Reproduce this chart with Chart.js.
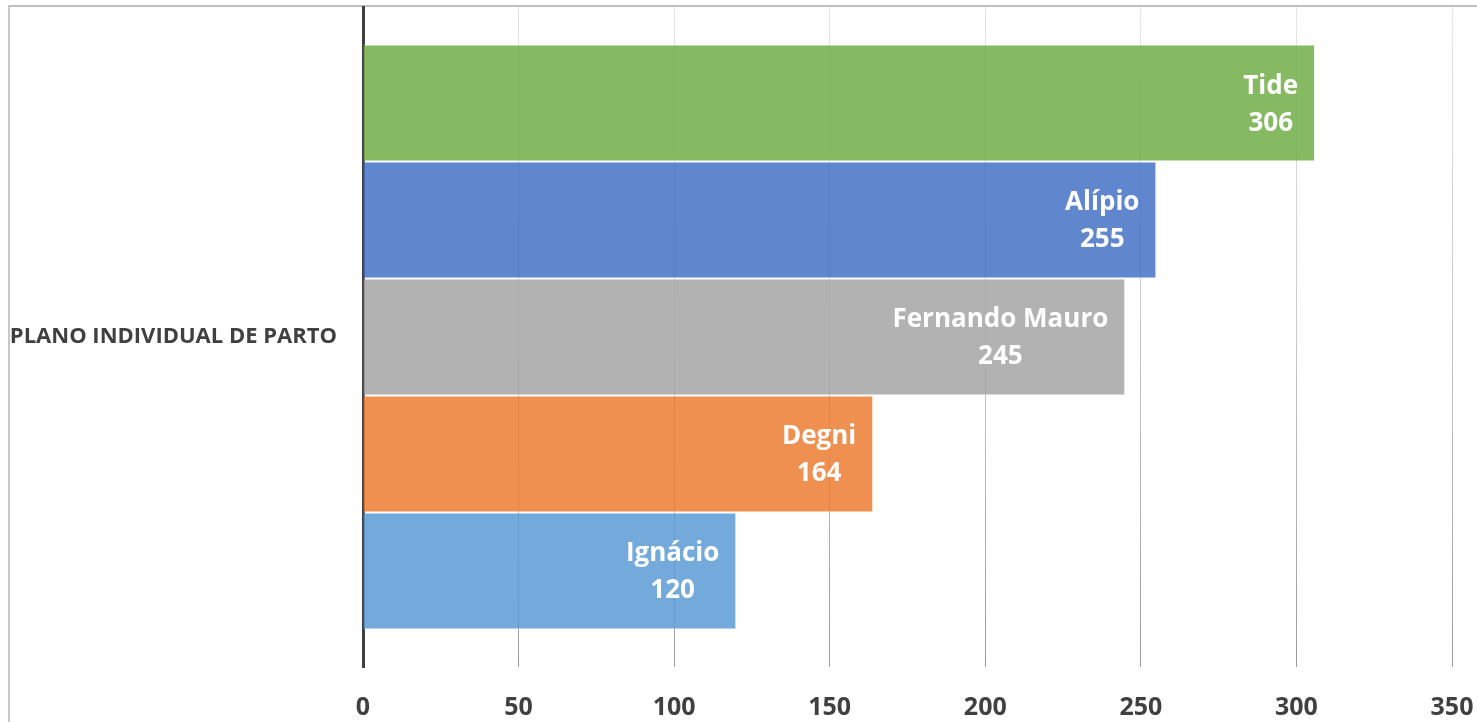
<!DOCTYPE html>
<html>
<head>
<meta charset="utf-8">
<script src="https://cdn.jsdelivr.net/npm/chart.js@4/dist/chart.umd.min.js"></script>
<style>
  html, body { margin: 0; padding: 0; background: #ffffff; overflow: hidden; }
  #frame { position: absolute; left: 8px; top: 5px; width: 3000px; height: 3000px;
           border-top: 2px solid #c0c0c0; border-left: 2px solid #c8c8c8; }
  #wrap { position: absolute; left: 0; top: 0; width: 1477px; height: 722px; }
</style>
</head>
<body>
<div id="frame"></div>
<div id="wrap"><canvas id="c" width="1477" height="722"></canvas></div>
<script>
const categories = ['PLANO INDIVIDUAL DE PARTO'];
const seriesNames = ['Tide', 'Alípio', 'Fernando Mauro', 'Degni', 'Ignácio'];
const seriesValues = [306, 255, 245, 164, 120];
const seriesColors = ['rgba(112,173,71,0.85)', 'rgba(68,114,196,0.85)', 'rgba(165,165,165,0.85)', 'rgba(237,125,49,0.85)', 'rgba(91,155,213,0.85)'];
const xTicks = [0, 50, 100, 150, 200, 250, 300, 350];

const FONT = "'Open Sans', 'Noto Sans', sans-serif";

const datasets = seriesNames.map((name, i) => ({
  label: name,
  data: [seriesValues[i]],
  backgroundColor: seriesColors[i],
  borderColor: 'rgba(255,255,255,0.45)',
  borderWidth: 1,
  barPercentage: 1.0,
  categoryPercentage: 0.886
}));

const barLabels = {
  id: 'barLabels',
  afterDatasetsDraw(chart) {
    const ctx = chart.ctx;
    ctx.save();
    ctx.font = 'bold 26px ' + FONT;
    ctx.fillStyle = '#ffffff';
    ctx.textAlign = 'center';
    ctx.textBaseline = 'middle';
    chart.data.datasets.forEach((ds, i) => {
      const el = chart.getDatasetMeta(i).data[0];
      if (!el) return;
      const lines = [ds.label, String(ds.data[0])];
      const w = Math.max(...lines.map(t => ctx.measureText(t).width));
      const cx = el.x - 17 - w / 2;
      ctx.fillText(lines[0], cx, el.y - 17);
      ctx.fillText(lines[1], cx, el.y + 20);
    });
    ctx.restore();
  }
};

new Chart(document.getElementById('c'), {
  type: 'bar',
  data: { labels: categories, datasets },
  options: {
    indexAxis: 'y',
    responsive: false,
    animation: false,
    layout: { padding: { top: 7, right: 25, bottom: 0, left: 0 } },
    plugins: { legend: { display: false }, tooltip: { enabled: false } },
    scales: {
      x: {
        min: xTicks[0],
        max: xTicks[xTicks.length - 1],
        afterBuildTicks(scale) { scale.ticks = xTicks.map(v => ({ value: v })); },
        afterFit(scale) {
          scale.height = 55;
          scale.paddingLeft = 0; scale.paddingRight = 0;
          scale.paddingTop = 0; scale.paddingBottom = 0;
        },
        border: { display: false },
        grid: {
          drawTicks: false,
          lineWidth: 1,
          color(ctx) {
            const ch = ctx.chart; const a = ch.chartArea;
            if (!a) return '#d9d9d9';
            const g = ch.ctx.createLinearGradient(0, a.top, 0, a.bottom);
            g.addColorStop(0, '#e6e6e6');
            g.addColorStop(0.5, '#c8c8c8');
            g.addColorStop(1, '#9c9c9c');
            return g;
          }
        },
        ticks: {
          padding: 26,
          color: '#404040',
          maxRotation: 0,
          font: { family: FONT, size: 25, weight: 'bold' }
        }
      },
      y: {
        z: 1,
        afterFit(scale) {
          scale.width = 363;
          scale.paddingLeft = 0; scale.paddingRight = 0;
          scale.paddingTop = 0; scale.paddingBottom = 0;
        },
        grid: { display: false, drawTicks: false },
        border: { display: true, color: '#404040', width: 3 },
        ticks: {
          padding: 26,
          color: '#404040',
          font: { family: FONT, size: 22, weight: 'bold' }
        }
      }
    }
  },
  plugins: [barLabels]
});
</script>
</body>
</html>
